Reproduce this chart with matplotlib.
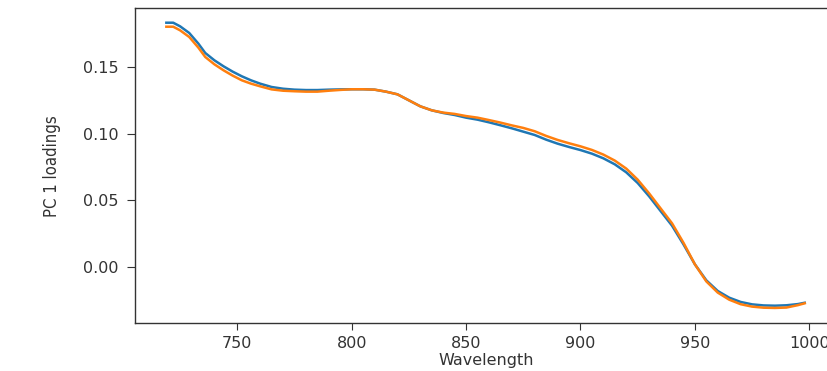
import matplotlib
matplotlib.use("Agg")
import matplotlib.pyplot as plt

# PC 1 loadings for two model fits over the NIR band
wavelength = [719, 722, 725, 729, 733, 736, 740, 744, 748, 752, 756, 760,
              765, 770, 775, 780, 785, 790, 795, 800, 805, 810, 815, 820,
              825, 830, 835, 840, 845, 850, 855, 860, 865, 870, 875, 880,
              885, 890, 895, 900, 905, 910, 915, 920, 925, 930, 935, 940,
              945, 950, 955, 960, 965, 970, 975, 980, 985, 990, 995, 998]

loadings_a = [0.1832, 0.1832, 0.1805, 0.1755, 0.1675, 0.1605, 0.1550, 0.1505,
              0.1465, 0.1430, 0.1400, 0.1375, 0.1350, 0.1337, 0.1330, 0.1327,
              0.1327, 0.1330, 0.1332, 0.1333, 0.1333, 0.1330, 0.1315, 0.1295,
              0.1250, 0.1205, 0.1175, 0.1155, 0.1140, 0.1120, 0.1105, 0.1085,
              0.1063, 0.1040, 0.1015, 0.0990, 0.0955, 0.0925, 0.0900, 0.0877,
              0.0850, 0.0815, 0.0770, 0.0710, 0.0630, 0.0530, 0.0420, 0.0310,
              0.0170, 0.0020, -0.0100, -0.0180, -0.0230, -0.0262, -0.0280,
              -0.0288, -0.0290, -0.0287, -0.0278, -0.0268]

loadings_b = [0.1802, 0.1802, 0.1775, 0.1725, 0.1645, 0.1575, 0.1520, 0.1475,
              0.1435, 0.1400, 0.1375, 0.1355, 0.1332, 0.1322, 0.1318, 0.1315,
              0.1315, 0.1322, 0.1328, 0.1333, 0.1333, 0.1330, 0.1315, 0.1295,
              0.1250, 0.1205, 0.1175, 0.1158, 0.1148, 0.1132, 0.1120, 0.1102,
              0.1083, 0.1062, 0.1043, 0.1018, 0.0983, 0.0953, 0.0928, 0.0905,
              0.0878, 0.0843, 0.0798, 0.0738, 0.0655, 0.0552, 0.0440, 0.0328,
              0.0182, 0.0020, -0.0108, -0.0192, -0.0245, -0.0279, -0.0297,
              -0.0305, -0.0307, -0.0304, -0.0286, -0.0272]

fig = plt.figure(figsize=(8.27, 3.71), dpi=100)
# axes run past the right edge of the figure
ax = fig.add_axes([0.1638, 0.1286, 0.848, 0.849])

ax.plot(wavelength, loadings_a, color="#1f77b4", linewidth=1.8)
ax.plot(wavelength, loadings_b, color="#ff7f0e", linewidth=1.8)

ax.set_xlim(705.5, 1012)
ax.set_ylim(-0.0422, 0.194)
ax.set_xticks([750, 800, 850, 900, 950, 1000])
ax.set_yticks([0.00, 0.05, 0.10, 0.15])
ax.set_yticklabels(["0.00", "0.05", "0.10", "0.15"])

ax.tick_params(labelsize=11.5, colors="#333333")
ax.tick_params(axis="x", length=5, pad=4.5)
ax.tick_params(axis="y", length=5.5, pad=6.5)
for spine in ax.spines.values():
    spine.set_color("#333333")
    spine.set_linewidth(1.0)

ax.set_xlabel("Wavelength", fontsize=11.5, color="#333333", labelpad=1)
ax.set_ylabel("PC 1 loadings", fontsize=12, color="#333333",
              family="DejaVu Sans", stretch="condensed", labelpad=16)

fig.savefig("out.png", dpi=100)
